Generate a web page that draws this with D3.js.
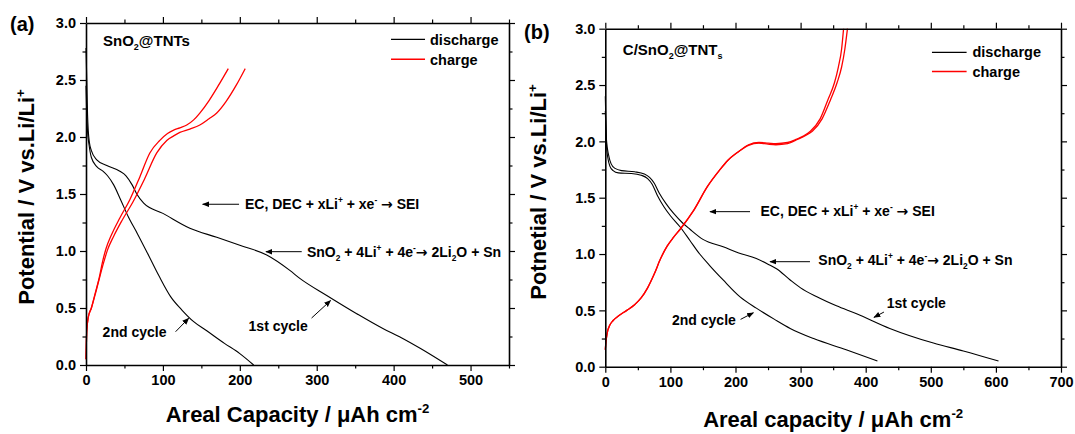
<!DOCTYPE html>
<html>
<head>
<meta charset="utf-8">
<script src="https://cdn.jsdelivr.net/npm/d3@7"></script>
<style>
body { margin: 0; background: #fff; }
svg text { font-family: "Liberation Sans", Arial, sans-serif; font-weight: 700; fill: #000; }
</style>
</head>
<body>
<div class="chart"></div>
<script>
// ---- data: [capacity µAh cm-2, potential V] ----
const aDischarge1 = [[0,2.78],[1,2.5],[2,2.2],[3,2.05],[4.5,1.95],[7,1.88],[14,1.80],[27,1.75],[44,1.70],[52,1.66],[60,1.58],[66,1.50],[75,1.42],[100,1.33],[135,1.20],[170,1.12],[200,1.05],[235,0.965],[265,0.83],[278,0.76],[313,0.61],[352,0.45],[386,0.32],[410,0.24],[435,0.145],[470,0.0]];
const aDischarge2 = [[0,2.45],[1,2.2],[2,2.05],[4,1.93],[7,1.82],[14,1.74],[22,1.70],[28,1.66],[36,1.58],[45,1.45],[55,1.30],[67,1.15],[80,0.98],[95,0.78],[110,0.60],[125,0.48],[140,0.38],[157,0.30],[180,0.19],[200,0.10],[218,0.0]];
const aCharge1 = [[0,0.05],[0.5,0.2],[1,0.3],[3,0.42],[7,0.5],[12,0.63],[17,0.76],[22,0.92],[26,1.02],[33,1.14],[44,1.29],[57,1.45],[70,1.65],[83,1.86],[96,1.97],[106,2.03],[114,2.06],[122,2.08],[131,2.105],[140,2.15],[148,2.21],[160,2.32],[172,2.45],[185,2.60]];
const aCharge2 = [[0,0.05],[0.5,0.2],[1,0.3],[3,0.42],[7,0.5],[12,0.62],[17,0.75],[23,0.9],[28,1.01],[36,1.13],[47,1.27],[61,1.43],[76,1.63],[92,1.86],[105,1.97],[114,2.01],[122,2.04],[135,2.07],[148,2.105],[160,2.16],[170,2.21],[182,2.31],[195,2.45],[207,2.60]];

const bDischarge1 = [[0,2.4],[1,2.15],[2,2.0],[5,1.88],[9,1.80],[15,1.76],[25,1.74],[45,1.73],[60,1.71],[68,1.68],[75,1.63],[83,1.54],[93,1.45],[105,1.36],[118,1.28],[130,1.22],[150,1.13],[181,1.065],[205,1.01],[232,0.96],[250,0.91],[263,0.87],[284,0.77],[300,0.70],[325,0.62],[355,0.54],[386,0.47],[437,0.34],[504,0.21],[550,0.14],[604,0.05]];
const bDischarge2 = [[0,2.27],[1,2.1],[2,1.95],[4,1.85],[7,1.78],[12,1.74],[20,1.72],[40,1.715],[55,1.70],[65,1.67],[72,1.62],[80,1.52],[90,1.42],[100,1.34],[115,1.24],[130,1.12],[145,1.00],[160,0.90],[181,0.77],[207,0.62],[232,0.52],[260,0.42],[284,0.34],[320,0.25],[370,0.15],[418,0.05]];
const bCharge1 = [[0,0.15],[1,0.22],[3,0.3],[7,0.37],[12,0.41],[20,0.45],[33,0.50],[45,0.55],[55,0.61],[65,0.70],[75,0.82],[85,0.96],[95,1.07],[105,1.15],[115,1.22],[135,1.38],[157,1.60],[175,1.74],[188,1.83],[205,1.91],[220,1.97],[236,1.99],[250,1.985],[262,1.98],[280,1.99],[294,2.02],[305,2.05],[315,2.09],[330,2.2],[342,2.37],[352,2.52],[358,2.66],[363,2.82],[366,3.0]];
const bCharge2 = [[0,0.15],[1,0.22],[3,0.3],[7,0.37],[12,0.41],[20,0.45],[33,0.50],[45,0.55],[55,0.61],[65,0.70],[75,0.82],[85,0.96],[95,1.07],[105,1.15],[115,1.22],[135,1.38],[157,1.60],[175,1.74],[188,1.83],[205,1.91],[220,1.965],[236,1.985],[250,1.975],[262,1.97],[280,1.98],[296,2.02],[307,2.05],[318,2.09],[333,2.2],[346,2.37],[356,2.52],[363,2.66],[368,2.82],[372,3.0]];

const yTicks = [0, 0.5, 1.0, 1.5, 2.0, 2.5, 3.0];
const yMinor = [0.25, 0.75, 1.25, 1.75, 2.25, 2.75];
const aXTicks = [0, 100, 200, 300, 400, 500];
const aXMinor = [50, 150, 250, 350, 450, 550];
const bXTicks = [0, 100, 200, 300, 400, 500, 600, 700];
const bXMinor = [50, 150, 250, 350, 450, 550, 650];

const legendLabels = ["discharge", "charge"];
const legendColors = ["#000", "#ff0000"];

const svg = d3.select(".chart").append("svg")
    .attr("width", 1075)
    .attr("height", 434);

svg.append("defs").append("marker")
    .attr("id", "head")
    .attr("viewBox", "0 0 10 10")
    .attr("refX", 9).attr("refY", 5)
    .attr("markerWidth", 7).attr("markerHeight", 7)
    .attr("markerUnits", "userSpaceOnUse")
    .attr("orient", "auto")
  .append("path")
    .attr("d", "M0,1 L10,5 L0,9 Z")
    .attr("fill", "#000");

// text with sub/superscripts, parts = [[text, kind], ...]
function rich(sel, parts, size) {
  let shift = 0;
  parts.forEach(([t, k]) => {
    let target = k === "sup" ? -size * 0.42 : k === "sub" ? size * 0.28 : 0;
    const ts = sel.append("tspan")
      .attr("dy", target - shift)
      .attr("font-size", (k === "sup" || k === "sub") ? size * 0.6 : size)
      .text(t);
    if (k === "arrow") ts.style("font-family", "'DejaVu Sans'").style("font-weight", "700");
    shift = target;
  });
  return sel;
}

function panel(p) {
  const x = d3.scaleLinear().domain(p.xDomain).range([p.left, p.right]);
  const y = d3.scaleLinear().domain([0, 3]).range([p.bottom, p.top]);
  const g = svg.append("g");

  const line = d3.line()
      .x(d => x(d[0]))
      .y(d => y(d[1]))
      .curve(d3.curveMonotoneX);

  p.series.forEach(s => {
    g.append("path")
      .datum(s.data)
      .attr("fill", "none")
      .attr("stroke", s.color)
      .attr("stroke-width", s.color === "#000" ? 1.1 : 1.3)
      .attr("d", line);
  });

  // axes: major + minor ticks on all four sides
  const axes = [
    [d3.axisBottom, x, p.xTicks, p.xMinor, `translate(0,${p.bottom})`, true],
    [d3.axisTop, x, p.xTicks, p.xMinor, `translate(0,${p.top})`, false],
    [d3.axisLeft, y, yTicks, yMinor, `translate(${p.left},0)`, true],
    [d3.axisRight, y, yTicks, yMinor, `translate(${p.right},0)`, false]
  ];
  axes.forEach(([axis, sc, major, minor, tr, labels]) => {
    const fmt = sc === y ? d3.format(".1f") : d3.format("d");
    g.append("g")
      .attr("transform", tr)
      .call(axis(sc).tickValues(minor).tickSize(3.5).tickSizeOuter(0).tickFormat(""))
      .call(a => a.select(".domain").remove());
    const ax = g.append("g")
      .attr("transform", tr)
      .call(axis(sc).tickValues(major).tickSize(6).tickSizeOuter(0).tickPadding(4)
        .tickFormat(labels ? fmt : ""));
    ax.select(".domain").attr("stroke-width", 1.6);
    ax.selectAll("text").attr("font-size", 14.5);
  });
  g.selectAll(".tick line").attr("stroke-width", 1.2);

  // axis titles
  rich(g.append("text")
    .attr("x", (p.left + p.right) / 2)
    .attr("y", p.xTitleY)
    .attr("text-anchor", "middle"), p.xTitle, 22);

  rich(g.append("text")
    .attr("transform", `translate(${p.yTitleX},${p.yTitleC}) rotate(-90)`)
    .attr("text-anchor", "middle"), p.yTitle, 22);

  g.append("text")
    .attr("x", p.tag[0]).attr("y", p.tag[1])
    .attr("font-size", 20)
    .text(p.tag[2]);

  rich(g.append("text")
    .attr("x", x(p.name[0])).attr("y", y(p.name[1])), p.name[2], 15);

  // legend
  const lg = p.legend;
  legendLabels.forEach((lab, i) => {
    g.append("line")
      .attr("x1", x(lg.x0)).attr("x2", x(lg.x1))
      .attr("y1", y(lg.lineY[i])).attr("y2", y(lg.lineY[i]))
      .attr("stroke", legendColors[i])
      .attr("stroke-width", 1.3);
    g.append("text")
      .attr("x", x(lg.tx)).attr("y", y(lg.textY[i]))
      .attr("font-size", 14.5)
      .text(lab);
  });

  // annotations with arrows
  p.notes.forEach(n => {
    g.append("line")
      .attr("x1", x(n.from[0])).attr("y1", y(n.from[1]))
      .attr("x2", x(n.to[0])).attr("y2", y(n.to[1]))
      .attr("stroke", "#000")
      .attr("stroke-width", 1)
      .attr("marker-end", "url(#head)");
    rich(g.append("text")
      .attr("x", x(n.at[0])).attr("y", y(n.at[1])), n.text, 14);
  });
}

const ecText = [["EC, DEC + xLi", ""], ["+", "sup"], [" + xe", ""], ["-", "sup"], [" ", ""], ["\u2192", "arrow"], [" SEI", ""]];
const snText = [["SnO", ""], ["2", "sub"], [" + 4Li", ""], ["+", "sup"], [" + 4e", ""], ["-", "sup"], ["\u2192", "arrow"], [" 2Li", ""], ["2", "sub"], ["O + Sn", ""]];

panel({
  left: 86, right: 509, top: 23, bottom: 365,
  xDomain: [0, 550], xTicks: aXTicks, xMinor: aXMinor,
  series: [
    {data: aDischarge1, color: "#000"},
    {data: aDischarge2, color: "#000"},
    {data: aCharge1, color: "#ff0000"},
    {data: aCharge2, color: "#ff0000"}
  ],
  xTitle: [["Areal Capacity / \u03bcAh cm", ""], ["-2", "sup"]],
  xTitleY: 422,
  yTitle: [["Potential / V vs.Li/Li", ""], ["+", "sup"]],
  yTitleX: 34, yTitleC: 197,
  tag: [10, 31, "(a)"],
  name: [22.1, 2.80, [["SnO", ""], ["2", "sub"], ["@TNTs", ""]]],
  legend: {x0: 396.6, x1: 440.8, tx: 447.3, lineY: [2.857, 2.682], textY: [2.807, 2.632]},
  notes: [
    {from: [199, 1.41], to: [151.7, 1.41], at: [206.7, 1.366], text: ecText},
    {from: [280.5, 0.994], to: [234, 0.994], at: [287.3, 0.947], text: snText},
    {from: [293.3, 0.412], to: [318, 0.565], at: [211.4, 0.30], text: [["1st cycle", ""]]},
    {from: [116.5, 0.292], to: [133.5, 0.41], at: [21.6, 0.248], text: [["2nd cycle", ""]]}
  ]
});

panel({
  left: 605.3, right: 1061, top: 28.7, bottom: 366.7,
  xDomain: [0, 700], xTicks: bXTicks, xMinor: bXMinor,
  series: [
    {data: bDischarge1, color: "#000"},
    {data: bDischarge2, color: "#000"},
    {data: bCharge1, color: "#ff0000"},
    {data: bCharge2, color: "#ff0000"}
  ],
  xTitle: [["Areal capacity / \u03bcAh cm", ""], ["-2", "sup"]],
  xTitleY: 427,
  yTitle: [["Potnetial / V vs.Li/Li", ""], ["+", "sup"]],
  yTitleX: 546, yTitleC: 192,
  tag: [524, 39, "(b)"],
  name: [26.9, 2.767, [["C/SnO", ""], ["2", "sub"], ["@TNT", ""], ["s", "sub"]]],
  legend: {x0: 501.8, x1: 555, tx: 564, lineY: [2.79, 2.62], textY: [2.746, 2.574]},
  notes: [
    {from: [222.3, 1.376], to: [160.8, 1.376], at: [238.4, 1.337], text: ecText},
    {from: [314.4, 0.932], to: [253, 0.932], at: [327.2, 0.903], text: snText},
    {from: [428, 0.485], to: [412.7, 0.438], at: [432.3, 0.518], text: [["1st cycle", ""]]},
    {from: [207.8, 0.42], to: [227.5, 0.479], at: [102.5, 0.37], text: [["2nd cycle", ""]]}
  ]
});
</script>
</body>
</html>
